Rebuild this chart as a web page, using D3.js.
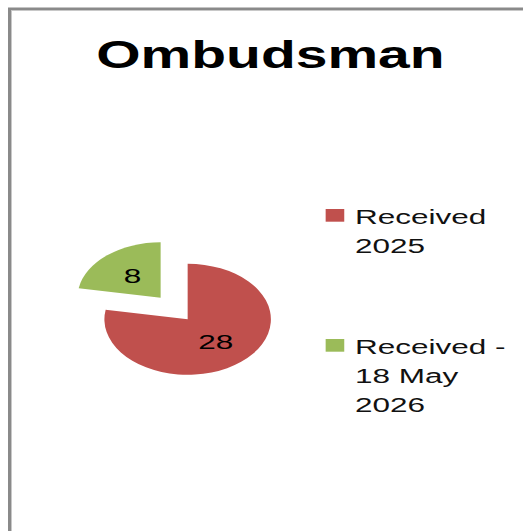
<!DOCTYPE html>
<html>
<head>
<meta charset="utf-8">
<script src="https://cdn.jsdelivr.net/npm/d3@7"></script>
<style>
    body { margin: 0; background: #fff; }
    svg { display: block; }
</style>
</head>
<body>
<div id="chart"></div>
<script>
// Ombudsman - received complaints
const categories = ["Received 2025", "Received - 18 May 2026"];
const values = [28, 8];
const colors = ["#C0504D", "#9BBB59"];
// legend text split over lines as in the picture
const legendLines = [["Received", "2025"], ["Received -", "18 May", "2026"]];
const title = "Ombudsman";

const width = 523, height = 531;
// the whole picture looks stretched sideways, so draw in narrow units and scale x
const sx = 1.5;

let svg = d3.select("#chart")
    .append("svg")
    .attr("width", width)
    .attr("height", height);

// chart area border (only top and left edges are visible)
svg.append("path")
    .attr("d", `M9.5,${height} V9 H${width}`)
    .attr("fill", "none")
    .attr("stroke", "#8a8a8a")
    .attr("stroke-width", 3);
svg.append("path")
    .attr("d", `M11.5,${height} V10.5 H${width}`)
    .attr("fill", "none")
    .attr("stroke", "#c8c8c8")
    .attr("stroke-width", 1);

let g = svg.append("g")
    .attr("transform", `scale(${sx}, 1)`);

// title
g.append("text")
    .attr("x", 180.3)
    .attr("y", 68)
    .attr("text-anchor", "middle")
    .style("font-family", "Liberation Sans, Arial, sans-serif")
    .style("font-weight", "bold")
    .style("font-size", "38px")
    .attr("fill", "#000")
    .text(title);

// pie
const cx = 125.1, cy = 319.3, r = 55.5;
const explode = [0, 28];

let pie = d3.pie().sort(null).value(d => d);
let arcs = pie(values);
let arc = d3.arc().innerRadius(0).outerRadius(r);
let labelArc = d3.arc().innerRadius(0).outerRadius(r * 1.05);

let slices = g.append("g")
    .attr("transform", `translate(${cx}, ${cy})`)
    .selectAll("g")
    .data(arcs)
    .enter()
    .append("g")
    .attr("transform", function (d, i) {
        let mid = (d.startAngle + d.endAngle) / 2;
        let dx = Math.sin(mid) * explode[i];
        let dy = -Math.cos(mid) * explode[i];
        return `translate(${dx}, ${dy})`;
    });

slices.append("path")
    .attr("d", arc)
    .attr("fill", (d, i) => colors[i]);

slices.append("text")
    .attr("transform", d => `translate(${labelArc.centroid(d)})`)
    .attr("text-anchor", "middle")
    .attr("dy", "0.36em")
    .style("font-family", "Liberation Sans, Arial, sans-serif")
    .style("font-size", "21px")
    .attr("fill", "#000")
    .text(d => d.data);

// legend
const legendX = 217.1, legendTops = [209, 339];
let legend = g.append("g")
    .selectAll("g")
    .data(categories)
    .enter()
    .append("g")
    .attr("transform", (d, i) => `translate(${legendX}, ${legendTops[i]})`);

legend.append("rect")
    .attr("width", 12.4)
    .attr("height", 12.7)
    .attr("fill", (d, i) => colors[i]);

legend.append("text")
    .attr("x", 19.6)
    .attr("y", 14.5)
    .style("font-family", "Liberation Sans, Arial, sans-serif")
    .style("font-size", "21px")
    .attr("fill", "#111")
    .selectAll("tspan")
    .data((d, i) => legendLines[i])
    .enter()
    .append("tspan")
    .attr("x", 19.6)
    .attr("dy", (d, j) => j === 0 ? 0 : 29.2)
    .text(d => d);
</script>
</body>
</html>
